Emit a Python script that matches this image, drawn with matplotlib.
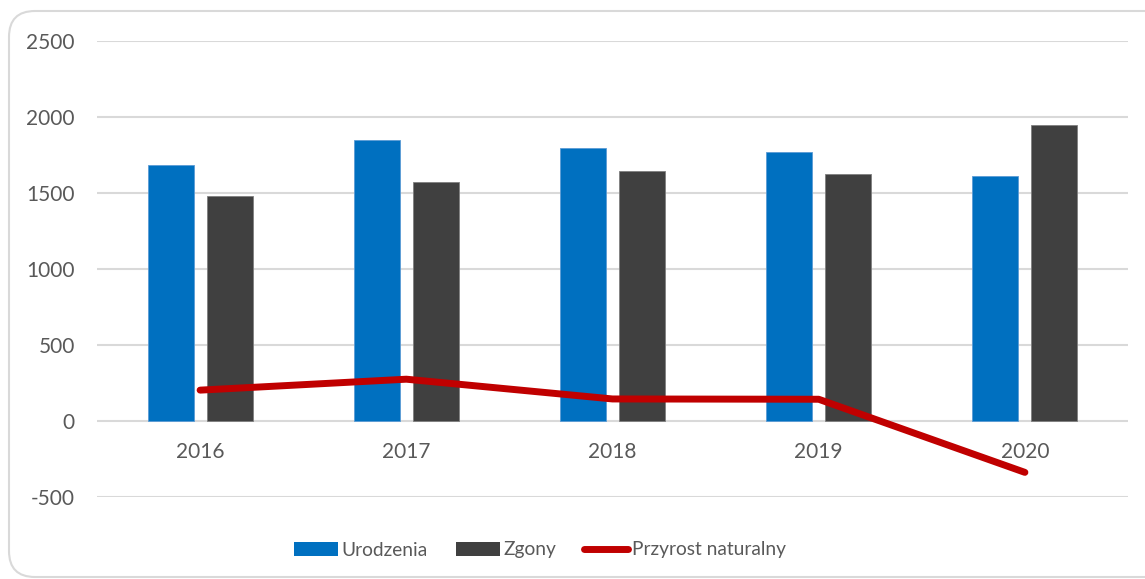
import numpy as np
import matplotlib
matplotlib.use("Agg")
import matplotlib.pyplot as plt
from matplotlib.patches import FancyBboxPatch, Patch
from matplotlib.lines import Line2D
from matplotlib.transforms import IdentityTransform

# Data
years = ["2016", "2017", "2018", "2019", "2020"]
urodzenia = [1689, 1849, 1796, 1770, 1614]
zgony = [1484, 1572, 1649, 1625, 1950]
przyrost = [u - z for u, z in zip(urodzenia, zgony)]

BLUE = "#0070C0"
GREY = "#404040"
RED = "#C00000"
TEXT = "#595959"
GRID = "#D9D9D9"

plt.rcParams["font.family"] = ["Lato", "DejaVu Sans"]
plt.rcParams["axes.unicode_minus"] = False

fig = plt.figure(figsize=(11.45, 5.79), dpi=100)
ax = fig.add_axes([97 / 1145, 1 - 497.3 / 579, (1128 - 97) / 1145, (497.3 - 41.3) / 579])

# rounded chart border (partly off the right edge, as in the original)
border = FancyBboxPatch((9, 2), 1175, 566,
                        boxstyle="round,pad=0,rounding_size=26",
                        transform=IdentityTransform(),
                        facecolor="none", edgecolor=GRID, linewidth=1.5)
fig.patches.append(border)

x = np.arange(len(years))
bw = 0.223
off = 0.143
ax.bar(x - off, urodzenia, bw, color=BLUE, edgecolor="#5B9BD5", linewidth=0.6, zorder=2)
ax.bar(x + off, zgony, bw, color=GREY, edgecolor="#7F7F7F", linewidth=0.6, zorder=2)
ax.plot(x, przyrost, color=RED, linewidth=5, solid_capstyle="round",
        solid_joinstyle="round", zorder=3)

ax.set_xlim(-0.5, len(years) - 0.5)
ax.set_ylim(-500, 2500)
ax.set_yticks(np.arange(-500, 2501, 500))
ax.set_xticks(x)
ax.set_xticklabels([])
ax.yaxis.grid(True, color=GRID, linewidth=1.5, zorder=0)
ax.set_axisbelow(True)
ax.tick_params(axis="both", length=0, colors=TEXT, labelsize=15)
ax.tick_params(axis="y", pad=16)
for s in ax.spines.values():
    s.set_visible(False)

# year labels sit just under the zero line, not at the bottom of the axes
for xi, yr in zip(x, years):
    ax.text(xi, -205, yr, ha="center", va="center", fontsize=15, color=TEXT)

handles = [
    Patch(facecolor=BLUE, label="Urodzenia"),
    Patch(facecolor=GREY, label="Zgony"),
    Line2D([0], [0], color=RED, linewidth=5, solid_capstyle="round", label="Przyrost naturalny"),
]
leg = fig.legend(handles=handles, loc="center", bbox_to_anchor=(540 / 1145, 1 - 550 / 579),
                 ncol=3, frameon=False, fontsize=13.8, handlelength=2.3, handleheight=0.7,
                 handletextpad=0.2, columnspacing=1.45, labelcolor=TEXT)

fig.savefig("out.png", dpi=100, facecolor="white")
